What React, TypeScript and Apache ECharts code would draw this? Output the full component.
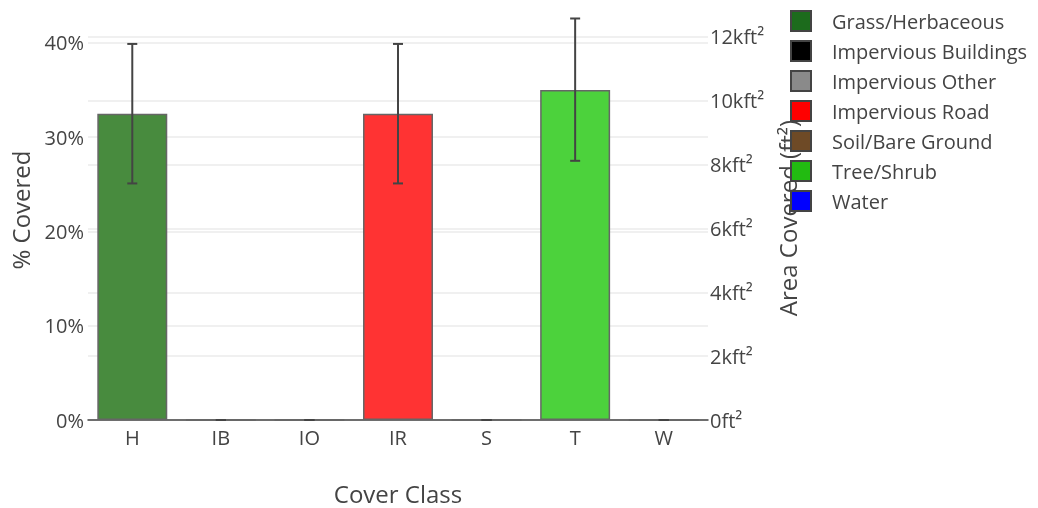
import React, { useEffect, useRef } from "react";
import * as echarts from "echarts";

const categories = ["H", "IB", "IO", "IR", "S", "T", "W"];
const classNames = [
  "Grass/Herbaceous",
  "Impervious Buildings",
  "Impervious Other",
  "Impervious Road",
  "Soil/Bare Ground",
  "Tree/Shrub",
  "Water",
];
const legendColors = ["#1c6b1c", "#000000", "#8a8a8a", "#ff0000", "#6e4a26", "#22bb11", "#0000ff"];
const barColors = ["#488b3e", "#333333", "#a1a1a1", "#ff3333", "#8b6e51", "#4cd23c", "#3333ff"];
const pctCovered = [32.5, 0, 0, 32.5, 0, 35, 0];
const ciLow = [25.1, 0, 0, 25.1, 0, 27.5, 0];
const ciHigh = [39.9, 0, 0, 39.9, 0, 42.6, 0];
const leftMax = 43.5;
const rightMax = 12845;

const FONT = "'Open Sans', sans-serif";
const TEXT = "#444";

export default function App() {
  const ref = useRef<HTMLDivElement>(null);
  useEffect(() => {
    if (!ref.current) return;
    const chart = echarts.init(ref.current, null, { renderer: "svg" });
    const barSeries = classNames.map((name, si) => ({
      type: "bar",
      name,
      stack: "all",
      yAxisIndex: 0,
      barWidth: "79%",
      itemStyle: { color: barColors[si], borderColor: "#666", borderWidth: 1.5 },
      data: categories.map((_, i) => (i === si ? pctCovered[i] : "-")),
    }));
    const errSeries = {
      type: "custom",
      name: "err",
      yAxisIndex: 0,
      z: 10,
      encode: { x: 0, y: [1, 2] },
      data: categories.map((_, i) => [i, ciLow[i], ciHigh[i]]),
      renderItem: (params: any, api: any) => {
        const x = api.value(0);
        const pLo = api.coord([x, api.value(1)]);
        const pHi = api.coord([x, api.value(2)]);
        const hw = 5;
        const style = { stroke: "#444", lineWidth: 2 };
        return {
          type: "group",
          children: [
            { type: "line", shape: { x1: pHi[0], y1: pHi[1], x2: pLo[0], y2: pLo[1] }, style },
            { type: "line", shape: { x1: pHi[0] - hw, y1: pHi[1], x2: pHi[0] + hw, y2: pHi[1] }, style },
            { type: "line", shape: { x1: pLo[0] - hw, y1: pLo[1], x2: pLo[0] + hw, y2: pLo[1] }, style },
          ],
        };
      },
    };
    chart.setOption({
      animation: false,
      textStyle: { fontFamily: FONT, color: TEXT },
      grid: { left: 88, right: 330, top: 10, bottom: 88, containLabel: false },
      legend: {
        orient: "vertical",
        left: 790,
        top: 10,
        padding: 0,
        itemWidth: 20,
        itemHeight: 20,
        itemGap: 8,
        icon: "rect",
        textStyle: { fontFamily: FONT, fontSize: 20, color: TEXT, lineHeight: 20, padding: [0, 0, 0, 16] },
        data: classNames.map((name, i) => ({
          name,
          itemStyle: { color: legendColors[i], borderColor: "#444", borderWidth: 2, opacity: 1 },
        })),
      },
      xAxis: {
        type: "category",
        data: categories,
        axisLine: { show: true, lineStyle: { color: "#444", width: 1.5 } },
        axisTick: { show: false },
        axisLabel: { fontFamily: FONT, fontSize: 20, color: TEXT, margin: 7 },
        splitLine: { show: false },
      },
      yAxis: [
        {
          type: "value",
          min: 0,
          max: leftMax,
          interval: 10,
          axisLine: { show: false },
          axisTick: { show: false },
          axisLabel: {
            fontFamily: FONT,
            fontSize: 20,
            color: TEXT,
            margin: 4,
            showMaxLabel: false,
            formatter: (v: number) => `${v}%`,
          },
          splitLine: { show: true, showMaxLine: false, lineStyle: { color: "#ebebeb", width: 1.5 } },
        },
        {
          type: "value",
          min: 0,
          max: rightMax,
          interval: 2000,
          position: "right",
          axisLine: { show: false },
          axisTick: { show: false },
          axisLabel: {
            fontFamily: FONT,
            fontSize: 20,
            color: TEXT,
            margin: 2,
            showMaxLabel: false,
            formatter: (v: number) => (v === 0 ? "0ft²" : `${v / 1000}kft²`),
          },
          splitLine: { show: true, showMaxLine: false, lineStyle: { color: "#ebebeb", width: 1.5 } },
        },
      ],
      graphic: [
        {
          type: "text",
          x: 20,
          y: 210,
          rotation: Math.PI / 2,
          style: { text: "% Covered", fontFamily: FONT, fontSize: 24, fill: TEXT, align: "center", verticalAlign: "middle" },
        },
        {
          type: "text",
          x: 787,
          y: 218,
          rotation: Math.PI / 2,
          style: { text: "Area Covered (ft²)", fontFamily: FONT, fontSize: 24, fill: TEXT, align: "center", verticalAlign: "middle" },
        },
        {
          type: "text",
          x: 398,
          y: 493,
          style: { text: "Cover Class", fontFamily: FONT, fontSize: 24, fill: TEXT, align: "center", verticalAlign: "middle" },
        },
      ],
      series: [...barSeries, errSeries],
    });
    return () => chart.dispose();
  }, []);
  return <div ref={ref} style={{ position: "fixed", left: 0, top: 0, width: 1038, height: 508 }} />;
}
